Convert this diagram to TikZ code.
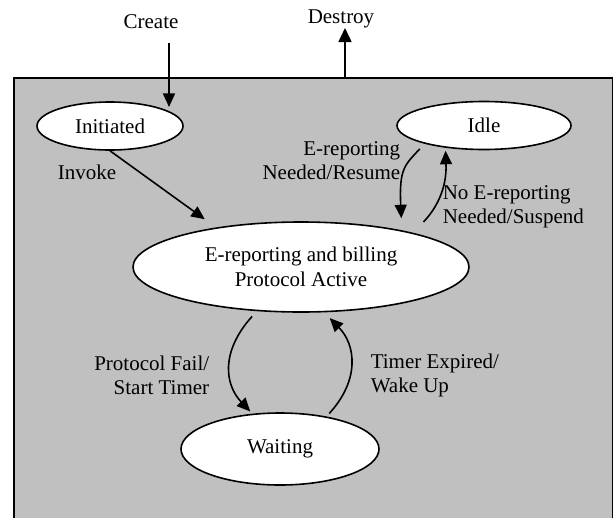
\documentclass[tikz,border=0pt]{standalone}
\usepackage{fontspec}
\setmainfont{Liberation Serif}
\usetikzlibrary{arrows.meta,shapes.geometric,calc}
\definecolor{bggray}{HTML}{C0C0C0}
\begin{document}
\begin{tikzpicture}[x=1pt,y=-1pt, line width=1.6pt,
  font=\fontsize{21}{24.5}\selectfont,
  state/.style={ellipse, draw, fill=white, inner sep=0pt},
  lbl/.style={inner sep=0pt},
  arr/.style={-{Triangle[length=13.5pt,width=12pt]}},
  arrbig/.style={-{Triangle[length=14pt,width=13pt]}}]
\useasboundingbox (0,0) rectangle (613,517);
\clip (0,0) rectangle (613,517);
\node[draw, fill=bggray, anchor=north west, minimum width=599pt, minimum height=460pt, inner sep=0pt] (frame) at (13,77) {};

\node[state, minimum width=146pt, minimum height=48pt] (init) at (110,126) {Initiated};
\node[state, minimum width=174pt, minimum height=48pt] (idle) at (484,125.5) {Idle};
\node[state, minimum width=336pt, minimum height=90pt, align=center] (act) at (301,267) {E-reporting and billing\\Protocol Active};
\node[state, minimum width=198pt, minimum height=72pt] (waiting) at (280,449) {Waiting};

\node[lbl] (create) at (151,22) {Create};
\node[lbl] (destroy) at (341,19) {Destroy};
\node[lbl] (invoke) at (87,172) {Invoke};
\node[lbl, anchor=east, align=right] (lres) at (401,160.5) {E-reporting\\Needed/Resume};
\node[lbl, anchor=west, align=left] (lsus) at (442,207) {No E-reporting\\Needed/Suspend};
\node[lbl, anchor=east, align=right] (lfail) at (210,375.5) {Protocol Fail/\\Start Timer};
\node[lbl, anchor=west, align=left] (lwake) at (370,375.5) {Timer Expired/\\Wake Up};

\coordinate (cstart) at (169,43);
\draw[arr, shorten >=5pt] (cstart) -- (cstart |- init.13);
\coordinate (dtail) at (345,77);
\coordinate (dtip) at (345,28);
\draw[arrbig] (dtail) -- (dtip);

\draw[arr, shorten >=14pt] (init.south) -- (act.155);
\draw[arr, shorten <=7pt, shorten >=12pt] (idle.197) .. controls (405,165) and (399,168) .. (act.20);
\draw[arr, shorten <=15pt, shorten >=3pt] (act.17) .. controls (435,210) and (447,190) .. (idle.210);
\draw[arr, shorten <=7pt, shorten >=3pt] (act.225) .. controls (220,352) and (225,385) .. (waiting.128);
\draw[arr, shorten <=4pt, shorten >=8pt] (waiting.35) .. controls (360,380) and (356,345) .. (act.297);
\end{tikzpicture}
\end{document}
